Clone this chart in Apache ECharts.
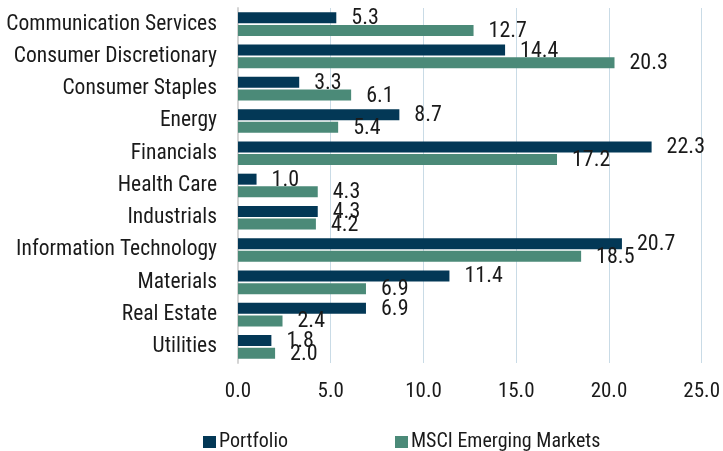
<!DOCTYPE html>
<html>
<head>
<meta charset="utf-8">
<script src="https://cdn.jsdelivr.net/npm/echarts@6/dist/echarts.min.js"></script>
<style>
  html, body { margin: 0; padding: 0; background: #fff; }
  #chart { width: 723px; height: 451px; }
</style>
</head>
<body>
<div id="chart"></div>
<script>
// sectors, top to bottom
const sectors = [
  'Communication Services', 'Consumer Discretionary', 'Consumer Staples', 'Energy',
  'Financials', 'Health Care', 'Industrials', 'Information Technology',
  'Materials', 'Real Estate', 'Utilities'
];
const portfolio = [5.3, 14.4, 3.3, 8.7, 22.3, 1.0, 4.3, 20.7, 11.4, 6.9, 1.8];
const msci = [12.7, 20.3, 6.1, 5.4, 17.2, 4.3, 4.2, 18.5, 6.9, 2.4, 2.0];
const seriesNames = ['Portfolio', 'MSCI Emerging Markets'];

const font = '"Roboto Condensed", "Liberation Sans Narrow", "DejaVu Sans Condensed", Roboto, sans-serif';
const txt = '#1a1a1a';

let chart = echarts.init(document.getElementById('chart'));

//数值标签放在柱子右边
let barLabel = {
  show: true,
  position: 'right',
  distance: 15,
  offset: [0, 1],
  formatter: p => p.value.toFixed(1),
  color: txt,
  fontFamily: font,
  fontSize: 22
};

// one legend per item so each sits where the reference has it
function makeLegend(name, left) {
  return {
    top: 427,
    left: left,
    itemWidth: 13,
    itemHeight: 12,
    icon: 'rect',
    textStyle: { color: txt, fontSize: 20, fontFamily: font, padding: [0, 0, 0, -2] },
    data: [name]
  };
}

let option = {
  animation: false,
  textStyle: { fontFamily: font },
  color: ['#033856', '#4b8a78'],
  grid: { left: 238, right: 18, top: 8, bottom: 88, containLabel: false },
  legend: [makeLegend(seriesNames[0], 198), makeLegend(seriesNames[1], 390)],
  xAxis: {
    type: 'value',
    min: 0,
    max: 25,
    interval: 5,
    axisLabel: {
      color: txt,
      fontSize: 21,
      fontFamily: font,
      margin: 18,
      formatter: v => v.toFixed(1)
    },
    axisLine: { show: false },
    axisTick: { show: false },
    splitLine: { show: true, lineStyle: { color: '#c9dbe6', width: 1 } }
  },
  yAxis: {
    type: 'category',
    inverse: true,
    data: sectors,
    axisTick: { show: false },
    axisLine: { show: true, lineStyle: { color: '#d4d4d4', width: 2 } },
    axisLabel: { color: txt, fontSize: 21.5, fontFamily: font, margin: 21 }
  },
  series: [
    {
      name: seriesNames[0],
      type: 'bar',
      data: portfolio,
      barWidth: 11,
      barGap: '15%',
      label: barLabel
    },
    {
      name: seriesNames[1],
      type: 'bar',
      data: msci,
      barWidth: 11,
      barGap: '15%',
      label: barLabel
    }
  ]
};
chart.setOption(option);
</script>
</body>
</html>
